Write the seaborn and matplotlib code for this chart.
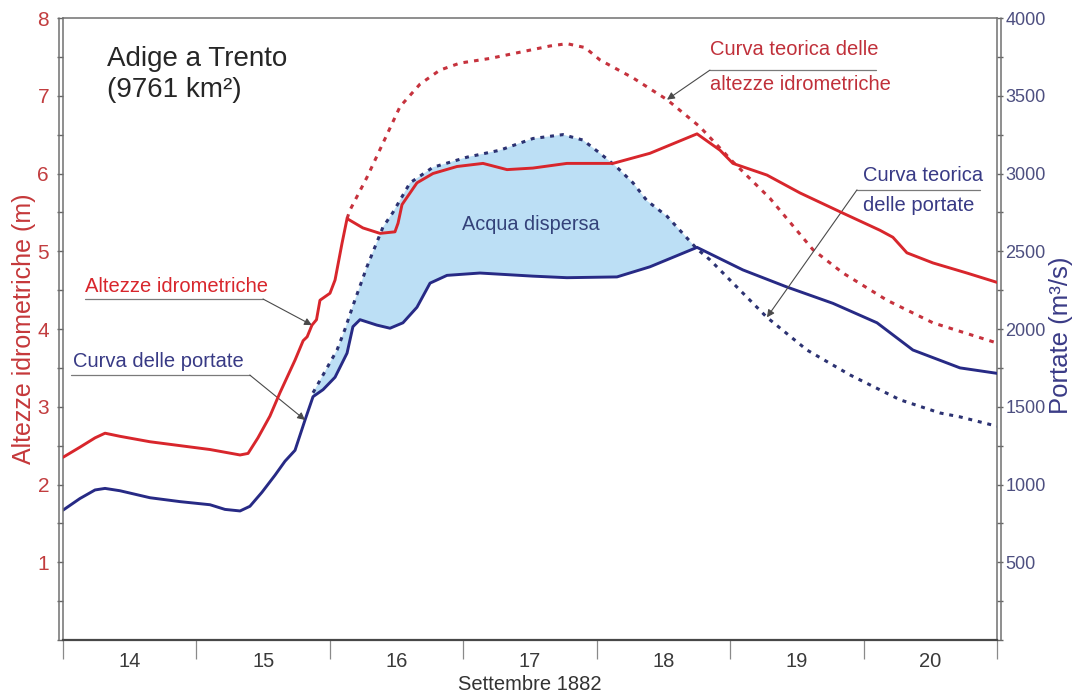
import numpy as np
import pandas as pd
import matplotlib
matplotlib.use("Agg")
import matplotlib.pyplot as plt
import matplotlib.transforms as mtransforms
from matplotlib.ticker import MultipleLocator
import seaborn as sns

# Observed stage at Trento (m), days of September 1882
stage_days = [14.000, 14.127, 14.240, 14.315, 14.427, 14.652, 14.877, 15.102, 15.327, 15.387,
              15.461, 15.551, 15.626, 15.739, 15.800, 15.830, 15.866, 15.900, 15.926, 16.001,
              16.039, 16.091, 16.129, 16.248, 16.376, 16.488, 16.511, 16.541, 16.653, 16.773,
              16.953, 17.148, 17.328, 17.522, 17.777, 18.122, 18.399, 18.752, 18.924, 19.021,
              19.276, 19.524, 19.846, 20.123, 20.220, 20.325, 20.520, 20.775, 21.000]
stage_m = [2.35, 2.48, 2.60, 2.66, 2.62, 2.55, 2.50, 2.45, 2.38, 2.40,
           2.60, 2.88, 3.18, 3.60, 3.85, 3.90, 4.05, 4.12, 4.37, 4.46,
           4.63, 5.10, 5.42, 5.30, 5.23, 5.25, 5.36, 5.60, 5.88, 6.00,
           6.09, 6.13, 6.05, 6.07, 6.13, 6.13, 6.26, 6.51, 6.30, 6.13,
           5.98, 5.75, 5.49, 5.27, 5.18, 4.98, 4.85, 4.72, 4.60]

# Observed discharge (m3/s)
flow_days = [14.000, 14.127, 14.240, 14.315, 14.427, 14.652, 14.877, 15.102, 15.214, 15.327,
             15.401, 15.491, 15.589, 15.664, 15.739, 15.814, 15.874, 15.949, 16.039, 16.129,
             16.173, 16.226, 16.353, 16.451, 16.548, 16.653, 16.751, 16.878, 17.125, 17.522,
             17.777, 18.152, 18.399, 18.752, 19.096, 19.426, 19.771, 20.101, 20.370, 20.723,
             21.000]
flow_m3s = [835, 910, 965, 975, 960, 915, 890, 870, 840, 830,
            860, 950, 1060, 1150, 1220, 1415, 1565, 1610, 1690, 1845,
            2015, 2060, 2025, 2005, 2040, 2140, 2295, 2345, 2360, 2340,
            2330, 2335, 2400, 2525, 2380, 2270, 2165, 2040, 1865, 1750,
            1715]

# Theoretical stage curve (m)
theo_stage_days = [16.129, 16.151, 16.278, 16.398, 16.526, 16.676, 16.825, 16.975, 17.200, 17.425,
                   17.650, 17.777, 17.912, 18.025, 18.272, 18.527, 18.774, 19.021, 19.299, 19.621,
                   19.846, 20.176, 20.520, 21.000]
theo_stage_m = [5.42, 5.53, 5.95, 6.39, 6.86, 7.15, 7.33, 7.42, 7.48, 7.56,
                7.64, 7.67, 7.62, 7.46, 7.23, 6.95, 6.60, 6.15, 5.68, 5.02,
                4.72, 4.37, 4.08, 3.82]

# Theoretical discharge curve (m3/s)
theo_flow_days = [15.874, 16.054, 16.114, 16.173, 16.278, 16.398, 16.473, 16.601, 16.773, 17.028,
                  17.275, 17.522, 17.747, 17.897, 18.025, 18.152, 18.272, 18.377, 18.527, 18.752,
                  18.849, 19.276, 19.576, 19.898, 20.273, 20.573, 20.723, 21.000]
theo_flow_m3s = [1590, 1865, 2000, 2150, 2400, 2655, 2750, 2940, 3040, 3105,
                 3150, 3225, 3250, 3215, 3130, 3040, 2940, 2825, 2725, 2515,
                 2445, 2075, 1865, 1705, 1545, 1460, 1435, 1375]

day_edges = [14, 15, 16, 17, 18, 19, 20, 21]
day_labels = ["14", "15", "16", "17", "18", "19", "20"]
stage_ticks = [1, 2, 3, 4, 5, 6, 7, 8]
flow_ticks = [500, 1000, 1500, 2000, 2500, 3000, 3500, 4000]

sns.set_theme(style="white")
plt.rcParams["font.family"] = ["Liberation Sans", "DejaVu Sans"]

RED = "#d8262c"
RED_DASH = "#c6323d"
NAVY = "#272a85"
NAVY_DASH = "#2c3272"
FILL = "#bcdff5"
FRAME = "#707070"
LEADER = "#7a7a7a"

stage_df = pd.DataFrame({"day": stage_days, "m": stage_m})
flow_df = pd.DataFrame({"day": flow_days, "q": flow_m3s})
theo_stage_df = pd.DataFrame({"day": theo_stage_days, "m": theo_stage_m})
theo_flow_df = pd.DataFrame({"day": theo_flow_days, "q": theo_flow_m3s})

fig = plt.figure(figsize=(10.75, 6.95), dpi=100)
ax = fig.add_axes([0.0586, 0.0791, 0.8688, 0.8950])
ax2 = ax.twinx()
ax.set_zorder(ax2.get_zorder() + 1)
ax.patch.set_visible(False)

# Area between theoretical and observed discharge ("lost" water)
t0, t1 = theo_flow_df["day"].iloc[0], 18.752
upper = theo_flow_df[theo_flow_df["day"] <= t1]
lower = flow_df[(flow_df["day"] >= t0) & (flow_df["day"] <= t1)].iloc[::-1]
ax2.fill(np.concatenate([upper["day"].values, lower["day"].values]),
         np.concatenate([upper["q"].values, lower["q"].values]),
         color=FILL, lw=0, zorder=1)

sns.lineplot(data=theo_flow_df, x="day", y="q", ax=ax2, color=NAVY_DASH, linewidth=2.2,
             linestyle=(0, (1.3, 1.9)), estimator=None, sort=False, zorder=3)
sns.lineplot(data=flow_df, x="day", y="q", ax=ax2, color=NAVY, linewidth=2.1,
             estimator=None, sort=False, zorder=4)
sns.lineplot(data=theo_stage_df, x="day", y="m", ax=ax, color=RED_DASH, linewidth=2.2,
             linestyle=(0, (1.5, 2.0)), estimator=None, sort=False, zorder=3)
sns.lineplot(data=stage_df, x="day", y="m", ax=ax, color=RED, linewidth=2.1,
             estimator=None, sort=False, zorder=4)

# Axes limits and ticks
ax.set_xlim(day_edges[0], day_edges[-1])
ax.set_ylim(0, 8)
ax2.set_ylim(0, 4000)
ax.set_xticks(day_edges)
ax.set_xticklabels([])
ax.set_xticks([d + 0.5 for d in day_edges[:-1]], minor=True)
ax.set_xticklabels(day_labels, minor=True)
ax.tick_params(axis="x", which="major", direction="out", length=14, width=0.9,
               color="#8a8a8a", bottom=True)
ax.tick_params(axis="x", which="minor", length=0, pad=8.5, labelsize=14.5,
               labelcolor="#3a3a3a", bottom=True)

ax.set_yticks(stage_ticks)
ax.yaxis.set_minor_locator(MultipleLocator(0.5))
ax.tick_params(axis="y", which="both", direction="out", length=4, width=1.0,
               color="#666666", left=True, labelcolor="#c23d3f", labelsize=15, pad=6)
ax2.set_yticks(flow_ticks)
ax2.yaxis.set_minor_locator(MultipleLocator(250))
ax2.tick_params(axis="y", which="both", direction="out", length=4, width=1.0,
                color="#666666", right=True, labelcolor="#4d4f80", labelsize=13, pad=2)

ax.set_ylabel("Altezze idrometriche (m)", color="#c5383a", fontsize=18)
ax.yaxis.set_label_coords(-0.029, 0.5)
ax2.set_ylabel("Portate (m³/s)", color="#3a3b86", fontsize=18.5)
ax2.yaxis.set_label_coords(1.056, 0.49)
ax.set_xlabel("Settembre 1882", color="#333333", fontsize=14.5)
ax.xaxis.set_label_coords(0.5, -0.056)

# Frame: double vertical rules, single top and bottom
for name, sp in ax.spines.items():
    sp.set_visible(name != "right")
    sp.set_color(FRAME)
    sp.set_linewidth(1.1)
ax.spines["bottom"].set_color("#474747")
ax.spines["bottom"].set_linewidth(1.6)
for name, sp in ax2.spines.items():
    sp.set_visible(name == "right")
    sp.set_color(FRAME)
    sp.set_linewidth(1.1)
px = mtransforms.ScaledTranslation(4 / 100, 0, fig.dpi_scale_trans)
ax.plot([0, 0], [0, 1], transform=ax.transAxes - px, color=FRAME, lw=1.1, clip_on=False)
ax.plot([1, 1], [0, 1], transform=ax.transAxes + px, color=FRAME, lw=1.1, clip_on=False)

# Station caption
ax.text(14.33, 7.38, "Adige a Trento", fontsize=20, color="#262626", va="baseline")
ax.text(14.33, 6.98, "(9761 km²)", fontsize=20, color="#262626", va="baseline")

# Area label
ax.text(17.507, 5.34, "Acqua dispersa", fontsize=14.3, color="#34427a", ha="center", va="center")

arrow_kw = dict(arrowstyle="-|>", color="#4a4a4a", lw=0.8, mutation_scale=11, shrinkA=0, shrinkB=0)

# Observed stage label
ax.text(14.165, 4.476, "Altezze idrometriche", fontsize=14.5, color=RED, va="baseline")
ax.plot([14.165, 15.499], [4.386, 4.386], color=LEADER, lw=0.9)
ax.annotate("", xy=(stage_days[16], stage_m[16]), xytext=(15.499, 4.386), arrowprops=arrow_kw)

# Observed discharge label
ax.text(14.075, 3.511, "Curva delle portate", fontsize=14.5, color="#383a85", va="baseline")
ax.plot([14.06, 15.40], [3.408, 3.408], color=LEADER, lw=0.9)
ax.annotate("", xy=(flow_days[15], flow_m3s[15]), xycoords=ax2.transData,
            xytext=(15.40, 3.408), textcoords=ax.transData, arrowprops=arrow_kw)

# Theoretical stage label
ax.text(18.85, 7.59, "Curva teorica delle", fontsize=14.5, color="#c0303a", va="center")
ax.text(18.85, 7.14, "altezze idrometriche", fontsize=14.5, color="#c0303a", va="center")
ax.plot([18.849, 20.09], [7.33, 7.33], color=LEADER, lw=0.9)
ax.annotate("", xy=(theo_stage_days[15], theo_stage_m[15]), xytext=(18.849, 7.33),
            arrowprops=arrow_kw)

# Theoretical discharge label
ax.text(19.996, 5.98, "Curva teorica", fontsize=14.5, color="#383a85", va="center")
ax.text(19.996, 5.59, "delle portate", fontsize=14.5, color="#383a85", va="center")
ax.plot([19.951, 20.872], [5.79, 5.79], color=LEADER, lw=0.9)
ax.annotate("", xy=(theo_flow_days[21], theo_flow_m3s[21]), xycoords=ax2.transData,
            xytext=(19.951, 5.79), textcoords=ax.transData, arrowprops=arrow_kw)

fig.savefig("out.png", dpi=100)
